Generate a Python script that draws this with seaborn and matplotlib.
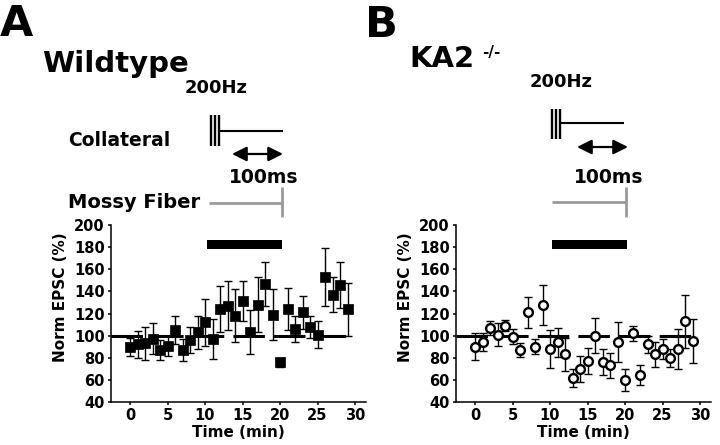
import matplotlib
matplotlib.use("Agg")
import matplotlib.pyplot as plt
import seaborn as sns
import pandas as pd

# ---------------- data ----------------
time_min = list(range(30))
wt_mean = [90, 92, 93, 97, 87, 91, 105, 87, 96, 103, 112, 97, 124, 127, 118,
           131, 103, 128, 147, 119, 76, 124, 106, 121, 108, 101, 153, 137, 146, 124]
wt_sem = [8, 12, 15, 14, 9, 9, 13, 10, 12, 15, 21, 18, 21, 22, 24,
          18, 20, 25, 20, 23, 4, 19, 12, 15, 10, 12, 26, 16, 21, 24]
ko_mean = [90, 94, 107, 101, 109, 99, 87, 121, 90, 128, 88, 94, 83, 62, 70,
           77, 100, 76, 73, 94, 60, 102, 64, 92, 83, 88, 80, 88, 113, 95]
ko_sem = [12, 8, 6, 10, 5, 7, 6, 14, 7, 18, 17, 13, 15, 8, 12,
          12, 16, 12, 11, 18, 10, 7, 9, 8, 11, 9, 8, 18, 24, 20]

baseline = 100
stim_start, stim_end = 10.3, 20.2
x_ticks = [0, 5, 10, 15, 20, 25, 30]
y_ticks = [40, 60, 80, 100, 120, 140, 160, 180, 200]

wt_df = pd.DataFrame({"t": time_min, "m": wt_mean, "e": wt_sem})
ko_df = pd.DataFrame({"t": time_min, "m": ko_mean, "e": ko_sem})

# ---------------- style ----------------
sns.set_style("ticks")
plt.rcParams["font.family"] = ["DejaVu Sans"]
plt.rcParams["font.weight"] = "bold"
plt.rcParams["axes.labelweight"] = "bold"
for k in ["text.color", "axes.labelcolor", "xtick.color", "ytick.color",
          "axes.edgecolor"]:
    plt.rcParams[k] = "black"

fig = plt.figure(figsize=(7.2, 4.45), dpi=100)
W, H = 720.0, 445.0
axA = fig.add_axes([110.5 / W, 43 / H, 255 / W, 177 / H])
axB = fig.add_axes([455.5 / W, 43 / H, 255 / W, 177 / H])

GRAY = "#9a9a9a"


def setup(ax):
    ax.set_xlim(-2.6, 31.4)
    ax.set_ylim(40, 200)
    ax.set_xticks(x_ticks)
    ax.set_yticks(y_ticks)
    for s in ["top", "right"]:
        ax.spines[s].set_visible(False)
    for s in ["left", "bottom"]:
        ax.spines[s].set_linewidth(1.1)
        ax.spines[s].set_color("black")
    ax.tick_params(axis="both", direction="out", length=2.5, width=1.1,
                   labelsize=10.5, pad=1.5, colors="black")
    ax.set_facecolor("white")
    # baseline dashed line
    ax.plot([-2.6, 29.8], [baseline, baseline], color="black", lw=2.2,
            dashes=(10.3, 3), zorder=1, solid_capstyle="butt")
    # stimulation period bar
    ax.fill_between([stim_start, stim_end], 178, 186, color="black",
                    lw=0, zorder=2)


setup(axA)
setup(axB)

# ---------------- data marks ----------------
axA.errorbar(wt_df["t"], wt_df["m"], yerr=wt_df["e"], fmt="none",
             ecolor="black", elinewidth=1.0, capsize=3, capthick=1.0, zorder=2)
sns.scatterplot(data=wt_df, x="t", y="m", marker="s", s=55, color="black",
                edgecolor="black", linewidth=0.5, ax=axA, zorder=3, legend=False)

axB.errorbar(ko_df["t"], ko_df["m"], yerr=ko_df["e"], fmt="none",
             ecolor="black", elinewidth=1.0, capsize=3, capthick=1.0, zorder=2)
sns.scatterplot(data=ko_df, x="t", y="m", marker="o", s=40, color="white",
                edgecolor="black", linewidth=1.7, ax=axB, zorder=3, legend=False)

for ax in (axA, axB):
    ax.set_xlabel("Time (min)", fontsize=11, fontweight="bold", labelpad=2)
    ax.set_ylabel("Norm EPSC (%)", fontsize=11, fontweight="bold")
    ax.yaxis.set_label_coords(-0.167, 0.593)
    for lab in ax.get_xticklabels() + ax.get_yticklabels():
        lab.set_fontweight("bold")


# ---------------- schematic above the plots ----------------
def schematic(ax, trip_x, trip_y, coll_end, coll_y, arr_x, arr_y,
              mf_x, mf_y, tick_y, hz_xy, ms_xy):
    kw = dict(clip_on=False, solid_capstyle="butt")
    for dx in (0.0, 0.5, 1.0):
        ax.plot([trip_x + dx, trip_x + dx], trip_y, color="black", lw=1.7, **kw)
    ax.plot([trip_x + 1.0, coll_end], [coll_y, coll_y], color="black", lw=1.5, **kw)
    ax.annotate("", xy=(arr_x[1], arr_y), xytext=(arr_x[0], arr_y),
                xycoords="data", annotation_clip=False,
                arrowprops=dict(arrowstyle="<|-|>,head_length=0.4,head_width=0.2",
                                mutation_scale=22, lw=1.6, color="black",
                                shrinkA=0, shrinkB=0))
    ax.plot(mf_x, [mf_y, mf_y], color=GRAY, lw=2.0, **kw)
    ax.plot([mf_x[1], mf_x[1]], tick_y, color=GRAY, lw=2.0, **kw)
    ax.text(hz_xy[0], hz_xy[1], "200Hz", fontsize=13, fontweight="bold",
            ha="left", va="baseline", clip_on=False)
    ax.text(ms_xy[0], ms_xy[1], "100ms", fontsize=13.5, fontweight="bold",
            ha="left", va="baseline", clip_on=False)


schematic(axA, trip_x=10.8, trip_y=[271.4, 299.4], coll_end=20.4, coll_y=285,
          arr_x=(13.6, 20.4), arr_y=264.2, mf_x=[10.5, 20.27], mf_y=219.9,
          tick_y=[207.2, 234.3], hz_xy=(7.33, 319.3), ms_xy=(13.2, 238))
schematic(axB, trip_x=10.3, trip_y=[277.7, 304.9], coll_end=19.87, coll_y=292.2,
          arr_x=(13.6, 20.4), arr_y=270.5, mf_x=[10.27, 20.13], mf_y=220.8,
          tick_y=[207.2, 234.3], hz_xy=(7.33, 324.7), ms_xy=(13.2, 238))

axA.text(-17.3, 370.9, "A", fontsize=31, fontweight="bold", ha="left",
         va="baseline", clip_on=False)
axB.text(-14.7, 369.9, "B", fontsize=31, fontweight="bold", ha="left",
         va="baseline", clip_on=False)
axA.text(-11.73, 338.3, "Wildtype", fontsize=21, fontweight="bold", ha="left",
         va="baseline", clip_on=False)
axB.text(-8.8, 342.6, "KA2", fontsize=21, fontweight="bold", ha="left",
         va="baseline", clip_on=False)
axB.text(0.93, 356.0, "-/-", fontsize=11, fontweight="bold", ha="left",
         va="center", clip_on=False)
axA.text(-8.27, 271.4, "Collateral", fontsize=13.5, fontweight="bold",
         ha="left", va="baseline", clip_on=False)
axA.text(-8.2, 215.4, "Mossy Fiber", fontsize=14, fontweight="bold",
         ha="left", va="baseline", clip_on=False)

fig.savefig("out.png", dpi=100, facecolor="white")
